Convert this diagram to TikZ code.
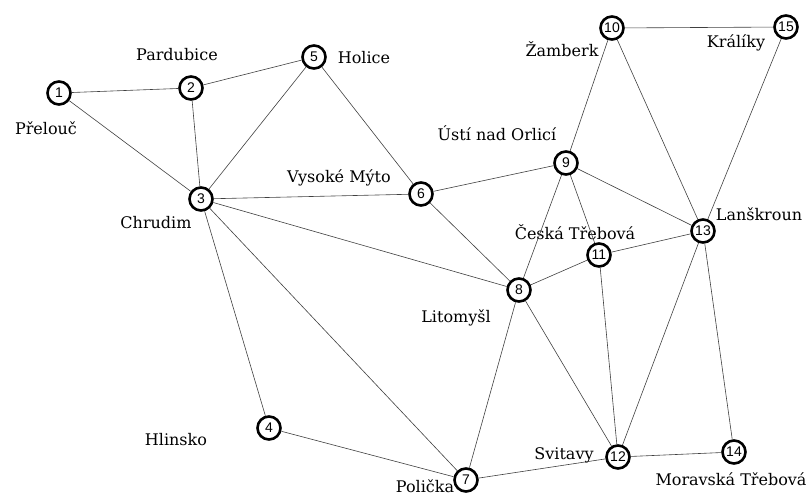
\documentclass[tikz,border=0pt]{standalone}
\usepackage{fontspec}
\setmainfont{DejaVu Serif}
\newfontfamily\numfont{Liberation Sans}
\begin{document}
\begin{tikzpicture}[x=1pt, y=-1pt, town/.style={circle, draw, line width=2.6pt, fill=white, minimum size=23pt, inner sep=0pt, font=\numfont\fontsize{14}{14}\selectfont}, city/.style={font=\fontsize{16}{16}\selectfont}, road/.style={line width=0.6pt, black!75}]
        \useasboundingbox (0,0) rectangle (810,495);
        \node[town] (1) at (59, 93) {1};
        \node[town] (2) at (191, 88) {2};
        \node[town] (3) at (201, 199) {3};
        \node[town] (4) at (269, 428) {4};
        \node[town] (5) at (314, 57) {5};
        \node[town] (6) at (421, 194) {6};
        \node[town] (7) at (466, 480) {7};
        \node[town] (8) at (519, 290) {8};
        \node[town] (9) at (566, 163) {9};
        \node[town] (10) at (612, 28) {10};
        \node[town] (11) at (599, 255) {11};
        \node[town] (12) at (618, 457) {12};
        \node[town] (13) at (703, 231) {13};
        \node[town] (14) at (734, 452) {14};
        \node[town] (15) at (786, 27) {15};
        \node[city] (n1) at (46, 128) {Přelouč};
        \node[city] (n2) at (177, 55) {Pardubice};
        \node[city] (n3) at (156, 223) {Chrudim};
        \node[city] (n4) at (176, 440) {Hlinsko};
        \node[city] (n5) at (364, 58) {Holice};
        \node[city] (n6) at (339, 178) {Vysoké Mýto};
        \node[city] (n7) at (425, 486) {Polička};
        \node[city] (n8) at (456, 318) {Litomyšl};
        \node[city] (n9) at (497, 133) {Ústí nad Orlicí};
        \node[city] (n10) at (562, 49) {Žamberk};
        \node[city] (n11) at (575, 232) {Česká Třebová};
        \node[city] (n12) at (564, 455) {Svitavy};
        \node[city] (n13) at (759, 214) {Lanškroun};
        \node[city] (n14) at (731, 479) {Moravská Třebová};
        \node[city] (n15) at (736, 43) {Králíky};
        \draw[road] (1) -- (2);
        \draw[road] (1) -- (3);
        \draw[road] (2) -- (5);
        \draw[road] (2) -- (3);
        \draw[road] (3) -- (5);
        \draw[road] (5) -- (6);
        \draw[road] (3) -- (6);
        \draw[road] (3) -- (8);
        \draw[road] (3) -- (4);
        \draw[road] (3) -- (7);
        \draw[road] (6) -- (9);
        \draw[road] (6) -- (8);
        \draw[road] (9) -- (10);
        \draw[road] (9) -- (13);
        \draw[road] (9) -- (11);
        \draw[road] (9) -- (8);
        \draw[road] (10) -- (15);
        \draw[road] (10) -- (13);
        \draw[road] (15) -- (13);
        \draw[road] (13) -- (11);
        \draw[road] (13) -- (12);
        \draw[road] (13) -- (14);
        \draw[road] (11) -- (8);
        \draw[road] (11) -- (12);
        \draw[road] (8) -- (7);
        \draw[road] (8) -- (12);
        \draw[road] (4) -- (7);
        \draw[road] (7) -- (12);
        \draw[road] (12) -- (14);
    \end{tikzpicture}
\end{document}
